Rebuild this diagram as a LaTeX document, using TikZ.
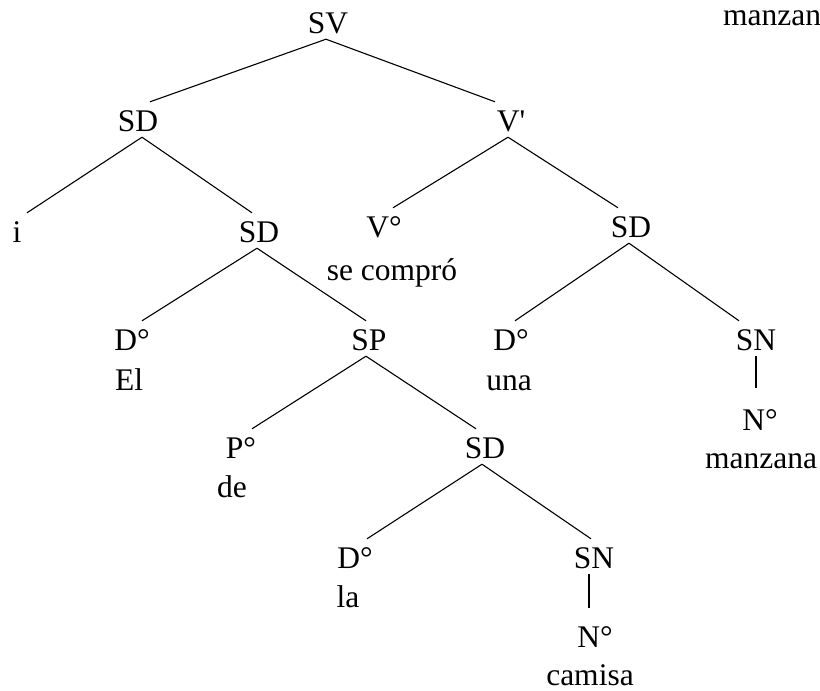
\documentclass[tikz,border=0pt]{standalone}
\usepackage{fontspec}
\setmainfont{Liberation Serif}[Ligatures=TeXOff]
\usepackage{tikz}

\tikzset{
  cat/.style={anchor=base,inner sep=0pt,text height=29pt,text depth=6pt},
  word/.style={anchor=base,inner sep=0pt},
  branch/.style={line width=1.1pt},
}

\begin{document}
\begin{tikzpicture}[x=1pt,y=-1pt,every node/.style={font=\fontsize{31.5}{36}\selectfont}]
  \useasboundingbox (0,0) rectangle (820,691);
  % category labels
  \node[cat] (sv) at (328,33) {SV};
  \node[word,anchor=base west] (cut) at (723,25) {manzan};
  \node[cat] (sd1) at (138,131) {SD};
  \node[cat] (vbar) at (511,131) {V'};
  \node[cat] (i) at (17,242) {i};
  \node[cat] (sd2) at (259,242) {SD};
  \node[cat] (vcirc) at (384,237) {V°};
  \node[cat] (sdr) at (631,237) {SD};
  \node[cat] (dcirc1) at (132,350) {D°};
  \node[cat] (sp) at (369,350) {SP};
  \node[cat] (dcirc2) at (511,350) {D°};
  \node[cat] (sn1) at (756,350) {SN};
  \node[cat] (n1) at (760,430) {N°};
  \node[cat] (pcirc) at (241,458) {P°};
  \node[cat] (sd4) at (485,458) {SD};
  \node[cat] (dcirc3) at (355,568) {D°};
  \node[cat] (sn2) at (594,568) {SN};
  \node[cat] (n2) at (595,647) {N°};
  % words
  \node[word] (secompro) at (392,280) {se compró};
  \node[word] (el) at (129,390) {El};
  \node[word] (una) at (509,390) {una};
  \node[word] (manzana) at (761,468) {manzana};
  \node[word] (de) at (232,497) {de};
  \node[word] (la) at (348,607) {la};
  \node[word] (camisa) at (590,685) {camisa};
  % branches
  \foreach \p/\c/\a/\b in {sv/sd1/-2/12,sv/vbar/-2/-16,sd1/i/4/10,sd1/sd2/4/-7,
      vbar/vcirc/-3/9,vbar/sdr/-3/-13,sd2/dcirc1/-2/10,sd2/sp/-2/-3,
      sdr/dcirc2/-2/4,sdr/sn1/-2/-17,sp/pcirc/-3/11,sp/sd4/-3/-9,
      sd4/dcirc3/-3/12,sd4/sn2/-3/-3}{
    \draw[branch] ([xshift=\a pt]\p.south) -- ([xshift=\b pt]\c.north);
  }
  \draw[branch,shorten >=13pt] (sn1.south) -- (sn1.south |- n1.north);
  \draw[branch,shorten >=10pt] ([xshift=-5pt]sn2.south) -- ([xshift=-5pt]sn2.south |- n2.north);
\end{tikzpicture}
\end{document}
